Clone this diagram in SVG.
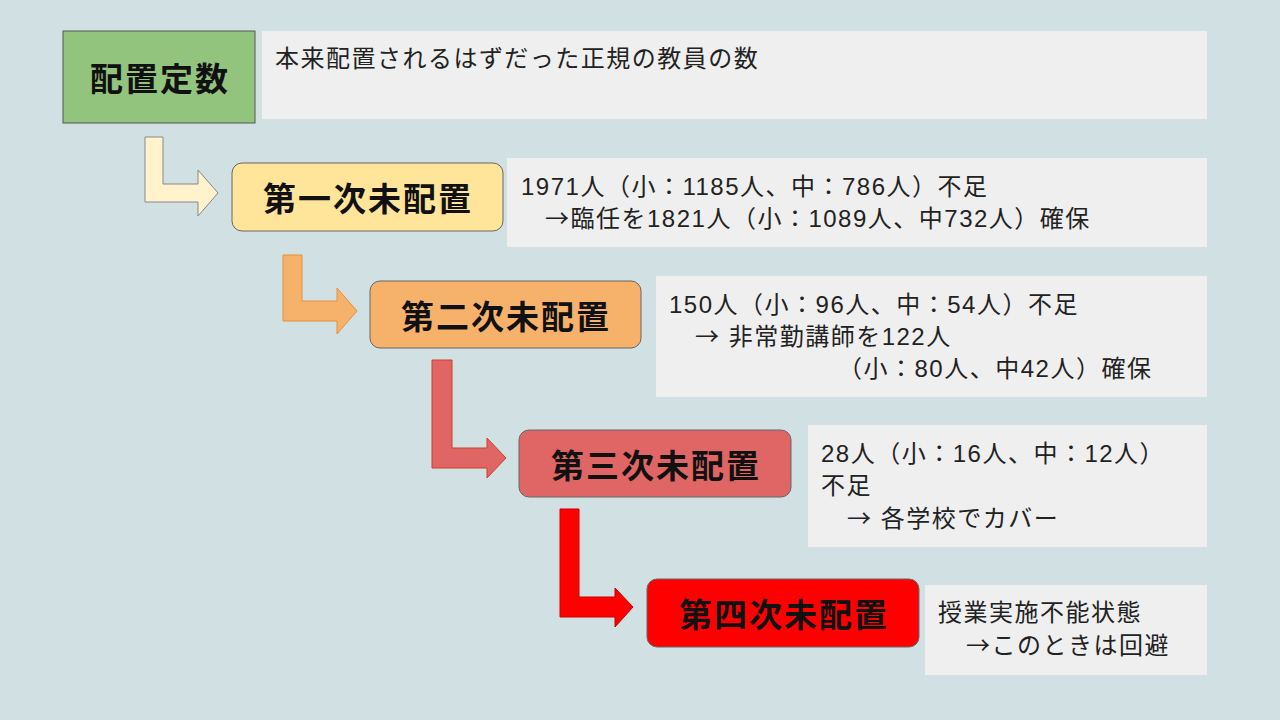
<svg xmlns="http://www.w3.org/2000/svg" width="1280" height="720" viewBox="0 0 1280 720">
<style>
.t{font-family:"Noto Sans CJK JP","Liberation Sans",sans-serif;font-weight:bold;font-size:33px;letter-spacing:2px;fill:#111;text-anchor:middle;dominant-baseline:central}
.d{font-family:"Liberation Sans","Noto Sans CJK JP",sans-serif;font-size:24px;letter-spacing:1.5px;fill:#222}
.a{font-family:"Noto Sans CJK JP",sans-serif}
.db{fill:#efefef}
</style>
<rect width="1280" height="720" fill="#d0e0e3"/>
<g id="connectors">
<path d="M145,137 H163 V184 H198 V170 L218,193 L198,216 V202 H145 Z" fill="#fff2cc" stroke="#888" stroke-width="1"/>
<path d="M283,255 H302 V301 H337 V288 L357,311 L337,334 V321 H283 Z" fill="#f6b26b" stroke="#e69138" stroke-width="1"/>
<path d="M432,360 H452 V448 H487 V438 L506,458 L487,478 V468 H432 Z" fill="#e06666" stroke="#cc4125" stroke-width="1"/>
<path d="M560,509 H579 V597 H615 V588 L633,607 L615,627 V617 H560 Z" fill="#ff0000" stroke="#cc0000" stroke-width="1"/>
</g>
<g id="n0">
<rect x="63" y="31" width="192" height="92" fill="#93c47d" stroke="#555" stroke-width="1"/>
<text class="t" x="160" y="77">配置定数</text>
<rect class="db" x="262" y="31" width="945" height="88"/>
<text class="d" x="275" y="67">本来配置されるはずだった正規の教員の数</text>
</g>
<g id="n1">
<rect x="232" y="163" width="271" height="68" rx="10" fill="#ffe599" stroke="#666" stroke-width="1"/>
<text class="t" x="368" y="197">第一次未配置</text>
<rect class="db" x="507" y="158" width="700" height="89"/>
<text class="d" x="521" y="195">1971人（小：1185人、中：786人）不足</text>
<text class="d" x="545" y="227"><tspan class="a">→</tspan>臨任を1821人（小：1089人、中732人）確保</text>
</g>
<g id="n2">
<rect x="370" y="281" width="271" height="67" rx="10" fill="#f6b26b" stroke="#666" stroke-width="1"/>
<text class="t" x="506" y="315">第二次未配置</text>
<rect class="db" x="656" y="276" width="551" height="121"/>
<text class="d" x="669" y="313">150人（小：96人、中：54人）不足</text>
<text class="d" x="695" y="345"><tspan class="a">→</tspan> 非常勤講師を122人</text>
<text class="d" x="838" y="377">（小：80人、中42人）確保</text>
</g>
<g id="n3">
<rect x="519" y="430" width="272" height="67" rx="10" fill="#e06666" stroke="#666" stroke-width="1"/>
<text class="t" x="656" y="464">第三次未配置</text>
<rect class="db" x="808" y="425" width="399" height="122"/>
<text class="d" x="821" y="462">28人（小：16人、中：12人）</text>
<text class="d" x="821" y="494">不足</text>
<text class="d" x="847" y="527"><tspan class="a">→</tspan> 各学校でカバー</text>
</g>
<g id="n4">
<rect x="647" y="579" width="272" height="68" rx="10" fill="#ff0000" stroke="#666" stroke-width="1"/>
<text class="t" x="784" y="613">第四次未配置</text>
<rect class="db" x="925" y="585" width="282" height="90"/>
<text class="d" x="938" y="621">授業実施不能状態</text>
<text class="d" x="966" y="654"><tspan class="a">→</tspan>このときは回避</text>
</g>
</svg>
